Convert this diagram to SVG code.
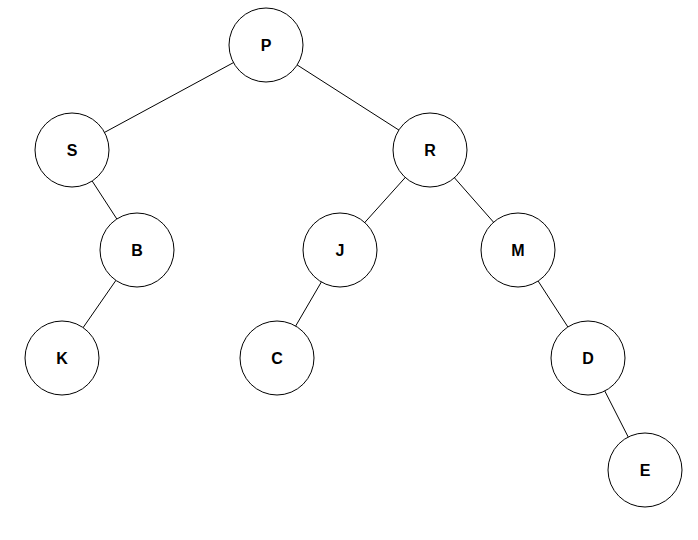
<svg xmlns="http://www.w3.org/2000/svg" width="698" height="540" viewBox="0 0 698 540">
<style>
.n circle{fill:#fff;stroke:#000;stroke-width:1}
.n text{font-family:"Liberation Sans",Arial,sans-serif;font-weight:bold;font-size:16px;text-anchor:middle;dominant-baseline:central}
.e line{stroke:#000;stroke-width:1}
</style>
<rect width="698" height="540" fill="#fff"/>
<g class="e">
<line x1="266" y1="45" x2="72" y2="150"/>
<line x1="266" y1="45" x2="430" y2="150"/>
<line x1="72" y1="150" x2="137" y2="250"/>
<line x1="137" y1="250" x2="62" y2="358"/>
<line x1="430" y1="150" x2="340" y2="250"/>
<line x1="430" y1="150" x2="518" y2="250"/>
<line x1="340" y1="250" x2="277" y2="358"/>
<line x1="518" y1="250" x2="588" y2="358"/>
<line x1="588" y1="358" x2="645" y2="470"/>
</g>
<g id="P" class="n"><circle cx="266" cy="45" r="37"/><text x="266" y="45">P</text></g>
<g id="S" class="n"><circle cx="72" cy="150" r="37"/><text x="72" y="150">S</text></g>
<g id="R" class="n"><circle cx="430" cy="150" r="37"/><text x="430" y="150">R</text></g>
<g id="B" class="n"><circle cx="137" cy="250" r="37"/><text x="137" y="250">B</text></g>
<g id="J" class="n"><circle cx="340" cy="250" r="37"/><text x="340" y="250">J</text></g>
<g id="M" class="n"><circle cx="518" cy="250" r="37"/><text x="518" y="250">M</text></g>
<g id="K" class="n"><circle cx="62" cy="358" r="37"/><text x="62" y="358">K</text></g>
<g id="C" class="n"><circle cx="277" cy="358" r="37"/><text x="277" y="358">C</text></g>
<g id="D" class="n"><circle cx="588" cy="358" r="37"/><text x="588" y="358">D</text></g>
<g id="E" class="n"><circle cx="645" cy="470" r="37"/><text x="645" y="470">E</text></g>
</svg>
